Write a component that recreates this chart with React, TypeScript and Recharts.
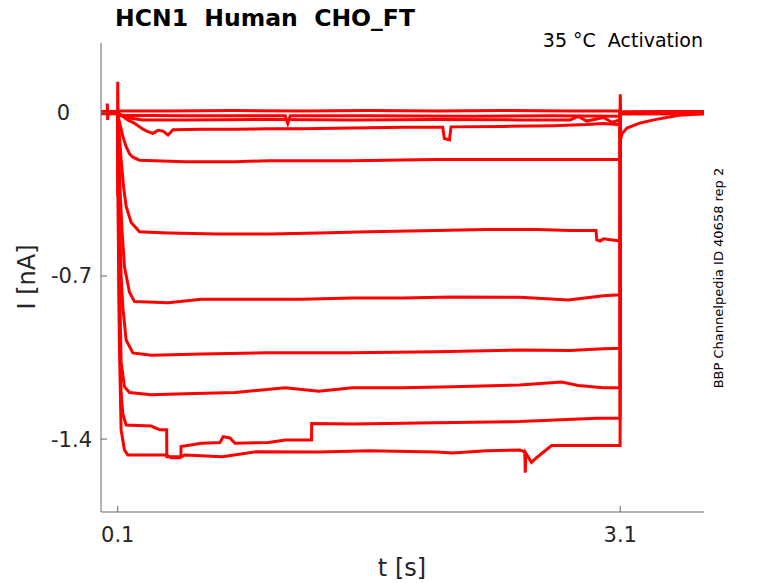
import React from 'react';
import { LineChart, Line, XAxis, YAxis } from 'recharts';

// sweep traces, [t (s), I (nA)]
const baseTop: [number, number][] = [
  [0, 0.006], [0.037, 0.006], [0.038, 0.04], [0.04, -0.03], [0.042, 0.006], [0.099, 0.006],
  [0.1, 0.134], [0.102, 0.008], [0.4, 0.008], [0.8, 0.01], [1.2, 0.008], [1.6, 0.01],
  [2.0, 0.008], [2.4, 0.01], [2.8, 0.008], [3.099, 0.008], [3.1, 0.08], [3.102, 0.005],
  [3.35, 0.006], [3.6, 0.006],
];
const baseMid: [number, number][] = [
  [0, -0.004], [0.099, -0.004], [0.1, -0.36], [0.101, -0.01], [0.5, -0.012], [1.1, -0.012],
  [1.115, -0.045], [1.13, -0.012], [1.6, -0.012], [2.2, -0.014], [2.7, -0.012],
  [3.099, -0.014], [3.1, -0.005], [3.6, -0.004],
];
const baseLow: [number, number][] = [
  [0, 0], [0.1, 0], [0.15, -0.02], [0.25, -0.03], [0.5, -0.03], [1.0, -0.028], [1.5, -0.03],
  [2.0, -0.028], [2.5, -0.03], [2.8, -0.03], [2.85, -0.015], [2.9, -0.035], [3.0, -0.02],
  [3.05, -0.04], [3.099, -0.03], [3.1, -0.12], [3.11, -0.09], [3.14, -0.065], [3.22, -0.043],
  [3.3, -0.03], [3.45, -0.01], [3.6, -0.004],
];
const sweepB: [number, number][] = [
  [0, 0], [0.1, 0], [0.12, -0.01], [0.16, -0.03], [0.2, -0.045], [0.25, -0.07], [0.28, -0.08],
  [0.31, -0.088], [0.34, -0.075], [0.37, -0.078], [0.4, -0.095], [0.43, -0.072], [0.6, -0.07],
  [0.8, -0.07], [1.0, -0.068], [1.2, -0.068], [1.5, -0.065], [1.8, -0.062], [2.04, -0.062],
  [2.05, -0.11], [2.08, -0.116], [2.09, -0.06], [2.4, -0.058], [2.7, -0.055], [2.9, -0.05],
  [3.0, -0.045], [3.099, -0.05], [3.1, 0], [3.6, 0],
];
const sweepC: [number, number][] = [
  [0, 0], [0.1, 0], [0.11, -0.04], [0.13, -0.1], [0.15, -0.145], [0.17, -0.175], [0.19, -0.19],
  [0.23, -0.203], [0.5, -0.21], [0.8, -0.21], [1.0, -0.205], [1.5, -0.205], [2.0, -0.2],
  [2.5, -0.2], [3.0, -0.2], [3.099, -0.2], [3.1, 0], [3.6, 0],
];
const sweepD: [number, number][] = [
  [0, 0], [0.1, 0], [0.11, -0.1], [0.12, -0.2], [0.135, -0.32], [0.15, -0.4], [0.18, -0.47],
  [0.23, -0.51], [0.4, -0.515], [0.7, -0.52], [1.0, -0.52], [1.3, -0.515], [1.6, -0.51],
  [2.0, -0.505], [2.3, -0.5], [2.6, -0.5], [2.8, -0.505], [2.955, -0.505], [2.96, -0.545],
  [2.98, -0.55], [3.0, -0.54], [3.099, -0.55], [3.1, 0], [3.6, 0],
];
const sweepE: [number, number][] = [
  [0, 0], [0.1, 0], [0.105, -0.15], [0.115, -0.35], [0.125, -0.5], [0.14, -0.66], [0.17, -0.77],
  [0.2, -0.81], [0.4, -0.815], [0.6, -0.8], [0.9, -0.8], [1.2, -0.8], [1.5, -0.795],
  [1.8, -0.795], [2.1, -0.79], [2.5, -0.791], [2.79, -0.803], [3.0, -0.785], [3.099, -0.781],
  [3.1, 0], [3.6, 0],
];
const sweepF: [number, number][] = [
  [0, 0], [0.1, 0], [0.105, -0.2], [0.11, -0.45], [0.12, -0.7], [0.13, -0.83], [0.15, -0.975],
  [0.19, -1.03], [0.3, -1.04], [0.6, -1.035], [1.0, -1.03], [1.5, -1.03], [2.0, -1.025],
  [2.5, -1.018], [2.8, -1.02], [3.0, -1.012], [3.099, -1.01], [3.1, 0], [3.6, 0],
];
const sweepG: [number, number][] = [
  [0, 0], [0.1, 0], [0.104, -0.3], [0.11, -0.7], [0.12, -1.07], [0.14, -1.175], [0.17, -1.2],
  [0.3, -1.21], [0.5, -1.205], [0.8, -1.2], [1.1, -1.18], [1.3, -1.195], [1.5, -1.18],
  [1.8, -1.18], [2.1, -1.175], [2.5, -1.168], [2.75, -1.155], [2.85, -1.17], [3.0, -1.18],
  [3.099, -1.18], [3.1, 0], [3.6, 0],
];
const sweepH: [number, number][] = [
  [0, 0], [0.1, 0], [0.103, -0.4], [0.11, -0.9], [0.12, -1.2], [0.13, -1.29], [0.15, -1.34],
  [0.3, -1.344], [0.35, -1.36], [0.392, -1.36], [0.393, -1.476], [0.477, -1.476],
  [0.478, -1.432], [0.6, -1.418], [0.71, -1.415], [0.73, -1.39], [0.77, -1.395], [0.8, -1.418],
  [1.0, -1.415], [1.1, -1.404], [1.257, -1.404], [1.258, -1.333], [1.5, -1.335], [2.0, -1.33],
  [2.5, -1.325], [2.96, -1.311], [3.099, -1.311], [3.1, 0], [3.6, 0],
];
const sweepI: [number, number][] = [
  [0, 0], [0.1, 0], [0.103, -0.5], [0.11, -1.0], [0.12, -1.36], [0.14, -1.447], [0.16, -1.468],
  [0.39, -1.468], [0.42, -1.48], [0.47, -1.48], [0.5, -1.468], [0.725, -1.476], [0.93, -1.454],
  [1.3, -1.455], [1.6, -1.45], [2.0, -1.455], [2.1, -1.46], [2.3, -1.45], [2.5, -1.447],
  [2.53, -1.455], [2.533, -1.544], [2.536, -1.46], [2.57, -1.5], [2.6, -1.48], [2.69, -1.428],
  [2.9, -1.428], [3.099, -1.428], [3.1, 0], [3.6, 0],
];

const sweeps = [baseTop, baseMid, baseLow, sweepB, sweepC, sweepD, sweepE, sweepF, sweepG, sweepH, sweepI];

const xTicks = [0.1, 3.1];
const yTicks = [-1.4, -0.7, 0];

const FONT = '"DejaVu Sans", sans-serif';
const AXIS = '#666666';
const INK = '#262626';

const XTick = (props: any) => {
  const { x, y, payload } = props;
  return (
    <text x={x} y={y} dy="0.71em" textAnchor="middle" fontSize={21} fontFamily={FONT} fill={INK}>
      {payload.value}
    </text>
  );
};

const YTick = (props: any) => {
  const { x, y, payload } = props;
  const shift = payload.value === 0 ? -22 : 0;
  return (
    <text x={x + shift} y={y} dy="0.355em" textAnchor="end" fontSize={21} fontFamily={FONT} fill={INK}>
      {payload.value}
    </text>
  );
};

export default function App() {
  return (
    <div style={{ position: 'absolute', left: 0, top: 0, width: 778, height: 583, background: '#fff' }}>
      <LineChart width={778} height={583} margin={{ top: 43, right: 74, left: 41, bottom: 41 }}>
        <XAxis
          type="number"
          dataKey="t"
          domain={[0, 3.6]}
          ticks={xTicks}
          interval={0}
          height={30}
          tickSize={-6}
          tickMargin={21}
          axisLine={{ stroke: AXIS }}
          tickLine={{ stroke: AXIS }}
          tick={<XTick />}
          allowDuplicatedCategory={false}
        />
        <YAxis
          type="number"
          dataKey="i"
          domain={[-1.713, 0.3]}
          ticks={yTicks}
          interval={0}
          width={60}
          tickSize={-6}
          tickMargin={15}
          axisLine={{ stroke: AXIS }}
          tickLine={{ stroke: AXIS }}
          tick={<YTick />}
        />
        {sweeps.map((s, k) => (
          <Line
            key={k}
            data={s.map(([t, i]) => ({ t, i }))}
            dataKey="i"
            type="linear"
            stroke="#ff0000"
            strokeWidth={3}
            dot={false}
            activeDot={false}
            isAnimationActive={false}
          />
        ))}
      </LineChart>
      <svg width={778} height={583} style={{ position: 'absolute', left: 0, top: 0, pointerEvents: 'none' }}>
        <text x={265} y={26} textAnchor="middle" fontSize={23.5} fontWeight="bold" fontFamily={FONT} fill="#000" style={{ whiteSpace: 'pre' }}>
          HCN1  Human  CHO_FT
        </text>
        <text x={703} y={47} textAnchor="end" fontSize={19} fontFamily={FONT} fill="#000" style={{ whiteSpace: 'pre' }}>
          35 °C  Activation
        </text>
        <text x={402} y={576} textAnchor="middle" fontSize={24} fontFamily={FONT} fill={INK}>
          t [s]
        </text>
        <text x={35} y={277} textAnchor="middle" fontSize={24} fontFamily={FONT} fill={INK} transform="rotate(-90 35 277)">
          I [nA]
        </text>
        <text x={722.5} y={278} textAnchor="middle" fontSize={13} fontFamily={FONT} fill="#000" transform="rotate(-90 722.5 278)">
          BBP Channelpedia ID 40658 rep 2
        </text>
      </svg>
    </div>
  );
}
